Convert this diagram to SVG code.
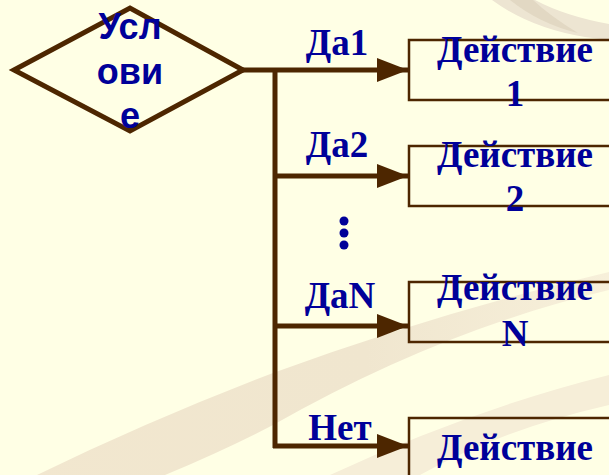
<svg xmlns="http://www.w3.org/2000/svg" width="609" height="475" viewBox="0 0 609 475">
  <style>
    .wire { stroke: #4d2600; stroke-width: 5; fill: none; }
    .box { stroke: #4d2600; stroke-width: 2.5; fill: none; }
    .lbl { font-family: "Liberation Serif", "Times New Roman", serif; font-weight: bold; font-size: 37px; fill: #000099; text-anchor: middle; }
    .cond { font-family: "Liberation Sans", Arial, sans-serif; font-weight: bold; font-size: 36px; fill: #000099; text-anchor: middle; }
  </style>
  <defs>
    <marker id="arrow" viewBox="0 0 31 24" refX="31" refY="12" markerWidth="31" markerHeight="24" markerUnits="userSpaceOnUse" orient="auto">
      <path d="M0,0 L31,12 L0,24 Z" fill="#4d2600"/>
    </marker>
    <linearGradient id="fade" x1="0" y1="0" x2="609" y2="0" gradientUnits="userSpaceOnUse">
      <stop offset="0" stop-color="#f2e7cf"/>
      <stop offset="0.6" stop-color="#f0e6cf"/>
      <stop offset="1" stop-color="#f7f0da"/>
    </linearGradient>
  </defs>

  <!-- background with decorative swooshes -->
  <rect width="609" height="475" fill="#ffffe5"/>
  <g id="backdrop">
    <path d="M37,475 Q150,420 273,373 Q440,312 609,272 L609,290 Q440,330 273,425 Q225,450 165,475 Z" fill="url(#fade)"/>
    <path d="M330,475 Q470,410 609,375 L609,405 Q500,430 420,475 Z" fill="#f6eed8"/>
    <path d="M492,0 Q530,28 585,37 L609,40 L609,24 Q565,16 535,0 Z" fill="#ede5d2"/>
    <path d="M510,0 Q540,24 578,33 Q550,16 533,0 Z" fill="#e2d8c3"/>
  </g>

  <!-- decision node -->
  <g id="condition">
    <polygon class="wire" points="14,70 130,8 243,70 130,131"/>
    <text class="cond" x="130" y="39">Усл</text>
    <text class="cond" x="130" y="84">ови</text>
    <text class="cond" x="130" y="128">е</text>
  </g>

  <!-- connectors -->
  <g id="connectors">
    <line class="wire" x1="275" y1="68" x2="275" y2="448"/>
    <line class="wire" x1="243" y1="70" x2="408" y2="70" marker-end="url(#arrow)"/>
    <line class="wire" x1="273" y1="176" x2="408" y2="176" marker-end="url(#arrow)"/>
    <line class="wire" x1="273" y1="326" x2="408" y2="326" marker-end="url(#arrow)"/>
    <line class="wire" x1="273" y1="446" x2="408" y2="446" marker-end="url(#arrow)"/>
    <text class="lbl" x="337" y="55">Да1</text>
    <text class="lbl" x="337" y="157">Да2</text>
    <text class="lbl" x="340" y="308">ДаN</text>
    <text class="lbl" x="340" y="440">Нет</text>
    <g fill="#000099">
      <circle cx="344" cy="221" r="4.5"/>
      <circle cx="344" cy="233" r="4.5"/>
      <circle cx="344" cy="245" r="4.5"/>
    </g>
  </g>

  <!-- action nodes -->
  <g id="action1">
    <rect class="box" x="409" y="40" width="220" height="60"/>
    <text class="lbl" x="515" y="62">Действие</text>
    <text class="lbl" x="515" y="106">1</text>
  </g>
  <g id="action2">
    <rect class="box" x="409" y="146" width="220" height="60"/>
    <text class="lbl" x="515" y="167">Действие</text>
    <text class="lbl" x="515" y="211">2</text>
  </g>
  <g id="actionN">
    <rect class="box" x="409" y="282" width="220" height="60"/>
    <text class="lbl" x="515" y="300">Действие</text>
    <text class="lbl" x="515" y="346">N</text>
  </g>
  <g id="actionElse">
    <rect class="box" x="409" y="418" width="220" height="80"/>
    <text class="lbl" x="515" y="460">Действие</text>
  </g>
</svg>
